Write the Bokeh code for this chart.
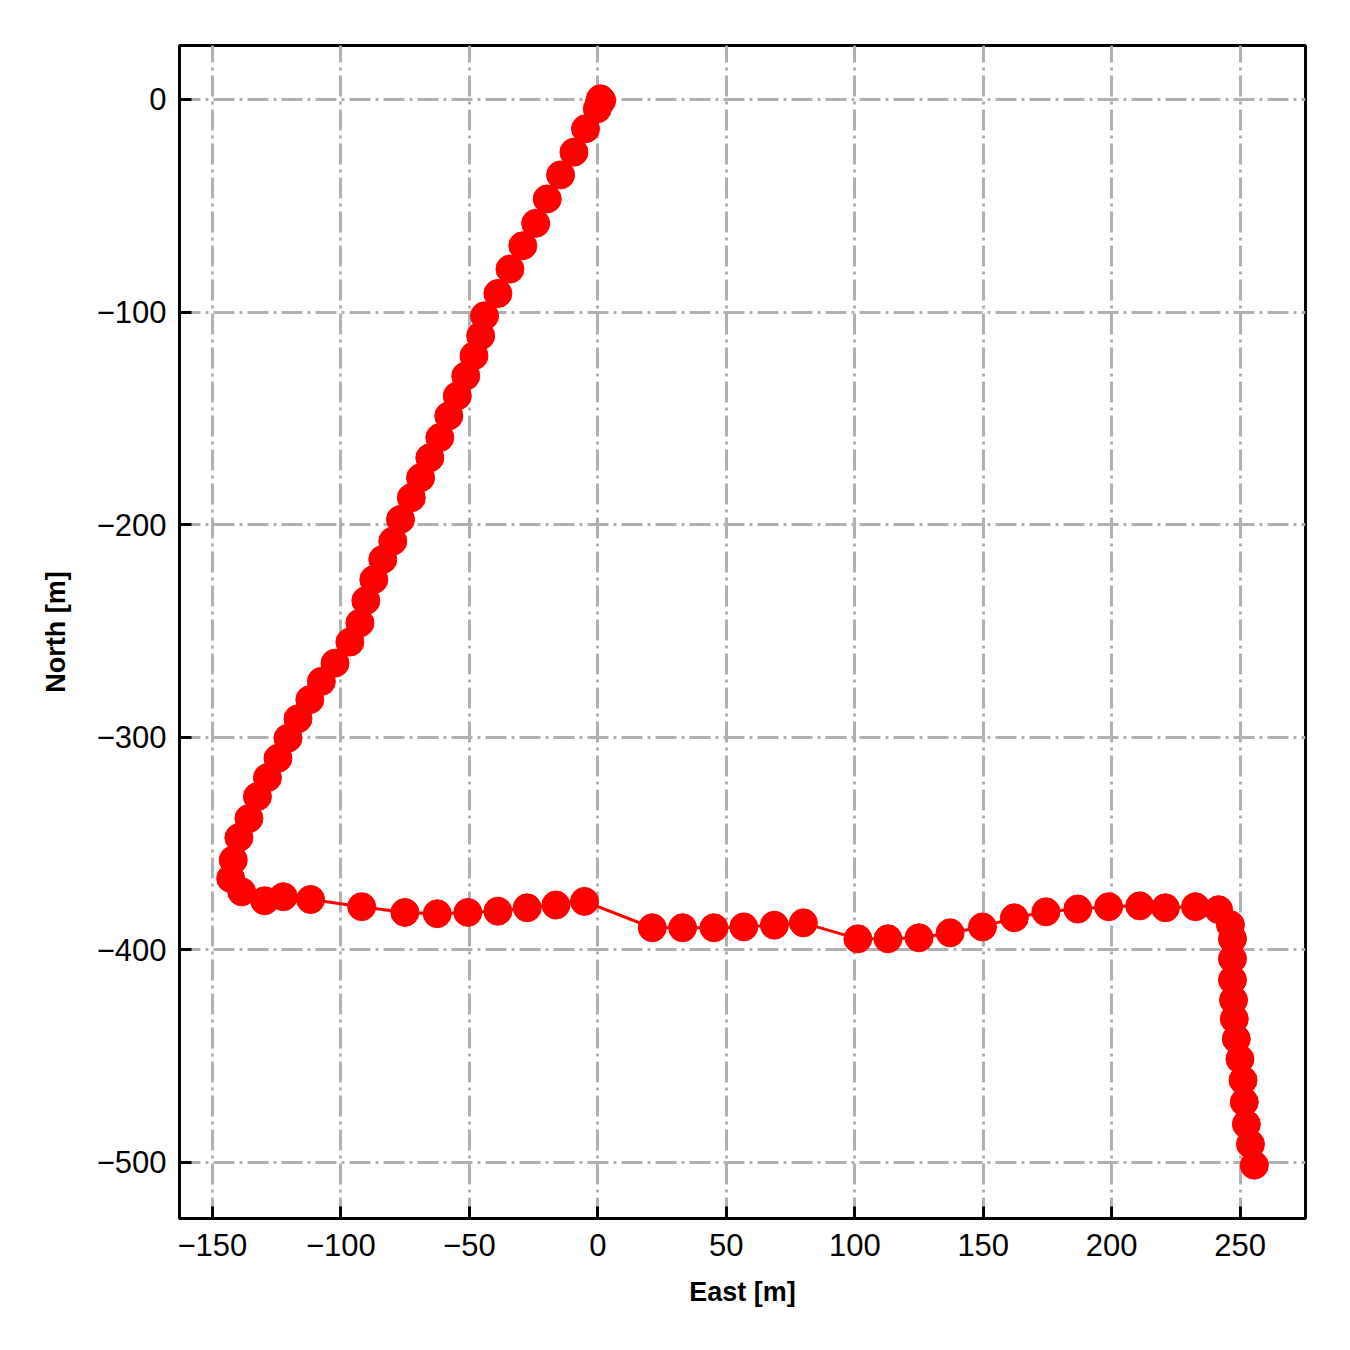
from bokeh.plotting import figure
from bokeh.models import Range1d, FixedTicker, ColumnDataSource
from bokeh.embed import file_html
from bokeh.resources import INLINE

east = [1.0, 1.5, 0.5, -0.2, -4.8, -9.3, -14.5, -19.7, -24.2, -29.2, -34.2, -38.9,
        -44.1, -45.6, -48.2, -51.4, -54.7, -58.0, -61.5, -65.4, -69.0, -72.6,
        -76.8, -79.8, -83.7, -87.2, -90.3, -92.6, -96.5, -102.3, -107.6, -112.1,
        -116.7, -120.6, -124.5, -128.6, -132.5, -135.8, -139.7, -141.9, -142.9,
        -138.6, -129.7, -122.4, -111.8, -91.9, -75.1, -62.5, -50.6, -38.9, -27.5,
        -16.3, -5.2, 21.2, 33.0, 45.2, 56.8, 68.7, 80.0, 101.2, 112.9, 125.0,
        137.1, 149.7, 162.1, 174.4, 186.8, 198.8, 210.9, 220.9, 232.6, 241.6,
        246.2, 247.0, 247.0, 247.0, 247.4, 247.7, 248.5, 249.9, 251.1, 251.6,
        252.4, 254.0, 255.5]
north = [0.3, -0.5, -2.0, -4.4, -13.8, -24.8, -35.5, -46.8, -58.3, -68.8, -79.8,
         -91.3, -101.8, -111.2, -120.6, -130.1, -139.5, -148.9, -159.1, -168.6,
         -178.0, -187.4, -197.6, -207.8, -216.4, -225.9, -235.8, -246.3, -255.3,
         -265.2, -273.8, -282.4, -291.4, -300.5, -310.0, -319.1, -328.0, -338.3,
         -347.3, -357.8, -366.5, -372.8, -377.0, -375.1, -376.4, -379.8, -382.5,
         -383.1, -382.5, -381.9, -380.3, -379.0, -377.3, -389.7, -389.7, -389.7,
         -389.3, -388.5, -387.4, -394.9, -394.9, -394.4, -392.1, -389.3, -385.0,
         -382.2, -380.9, -379.8, -379.4, -380.3, -379.8, -381.2, -388.3, -394.9,
         -404.3, -414.2, -423.7, -432.6, -442.0, -451.5, -461.4, -471.7, -482.1,
         -491.5, -501.4]

x_ticks = [-150, -100, -50, 0, 50, 100, 150, 200, 250]
y_ticks = [0, -100, -200, -300, -400, -500]
x_label = "East [m]"
y_label = "North [m]"


def fmt(v):
    return str(v).replace("-", "\u2212")


def padded(vals, frac=0.05):
    lo, hi = min(vals), max(vals)
    m = (hi - lo) * frac
    return lo - m, hi + m


x0, x1 = padded(east)
y0, y1 = padded(north)

p = figure(width=1334, height=1334, output_backend="svg", toolbar_location=None,
           x_range=Range1d(x0, x1), y_range=Range1d(y0, y1),
           min_border_left=179, min_border_right=29, min_border_top=45,
           min_border_bottom=116)
p.background_fill_color = "white"
p.border_fill_color = "white"
p.outline_line_color = "black"
p.outline_line_width = 3

src = ColumnDataSource(dict(x=east, y=north))
p.line("x", "y", source=src, line_color="#ff0000", line_width=3)
p.scatter("x", "y", source=src, size=28, fill_color="#ff0000",
          line_color="#ff0000", line_width=1)

p.xaxis.ticker = FixedTicker(ticks=x_ticks)
p.yaxis.ticker = FixedTicker(ticks=y_ticks)
p.xaxis.major_label_overrides = {t: fmt(t) for t in x_ticks}
p.yaxis.major_label_overrides = {t: fmt(t) for t in y_ticks}

for ax in (p.xaxis, p.yaxis):
    ax.axis_line_color = "black"
    ax.axis_line_width = 3
    ax.major_tick_in = 12
    ax.major_tick_out = 0
    ax.major_tick_line_width = 3
    ax.minor_tick_line_color = None
    ax.major_label_text_font = "Liberation Sans"
    ax.major_label_text_font_size = "31px"
    ax.major_label_text_color = "black"
    ax.axis_label_text_font = "Liberation Sans"
    ax.axis_label_text_font_style = "bold"
    ax.axis_label_text_font_size = "27px"
    ax.axis_label_text_color = "black"

p.xaxis.major_label_standoff = 15
p.yaxis.major_label_standoff = 13
p.xaxis.axis_label = x_label
p.yaxis.axis_label = y_label
p.xaxis.axis_label_standoff = 18
p.yaxis.axis_label_standoff = 23

for g in (p.xgrid, p.ygrid):
    g.grid_line_color = "#b0b0b0"
    g.grid_line_width = 3
    g.grid_line_dash = "21 5 3 5"

open("out.html", "w").write(file_html(p, INLINE))
